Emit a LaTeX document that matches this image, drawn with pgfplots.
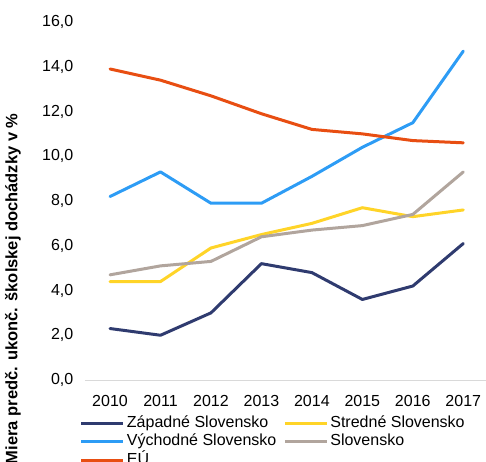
\documentclass[border=0pt]{standalone}
\usepackage{fontspec}
\setmainfont{Liberation Sans}
\usepackage{pgfplots}
\pgfplotsset{compat=1.18}

\definecolor{zapad}{HTML}{2F3B6F}
\definecolor{vychod}{HTML}{2D9CF5}
\definecolor{eu}{HTML}{E84E12}
\definecolor{stred}{HTML}{FFD428}
\definecolor{sk}{HTML}{B1A59D}

\begin{document}
\begin{tikzpicture}
\begin{axis}[
  scale only axis,
  width=401.2bp, height=358bp,
  xmin=2009.5, xmax=2017.45,
  ymin=0, ymax=16,
  xtick={2010,...,2017},
  ytick={0,2,...,16},
  font=\fontsize{16bp}{18bp}\selectfont,
  /pgf/number format/assume math mode=true,
  x tick label style={/pgf/number format/1000 sep={}},
  y tick label style={/pgf/number format/fixed, /pgf/number format/fixed zerofill,
    /pgf/number format/precision=1, /pgf/number format/use comma},
  major tick length=0pt,
  separate axis lines,
  axis x line*=bottom,
  axis y line*=left,
  x axis line style={draw=black!15, line width=0.8bp, -},
  y axis line style={draw=none},
  yticklabel style={xshift=-8bp},
  xticklabel style={yshift=-12bp},
  ylabel={\fontsize{16.5bp}{18bp}\selectfont\bfseries Miera predč. ukonč. školskej dochádzky v \%},
  ylabel style={at={(axis description cs:-0.179,0.255)}, anchor=center},
  every axis plot/.append style={line width=3bp, line join=round, line cap=round},
  legend columns=2,
  legend cell align=left,
  legend style={draw=none, fill=none, at={(axis description cs:-0.02,-0.089)}, anchor=north west,
    row sep=0bp,
    nodes={text height=11bp, text depth=3.5bp, inner ysep=2bp},
    /tikz/every even column/.append style={column sep=5bp}},
  legend image code/.code={\draw[#1, line cap=butt] (0bp,0bp) -- (42bp,0bp);},
]
\addplot[zapad] coordinates {(2010,2.3) (2011,2.0) (2012,3.0) (2013,5.2) (2014,4.8) (2015,3.6) (2016,4.2) (2017,6.1)};
\addlegendentry{Západné Slovensko}
\addplot[stred] coordinates {(2010,4.4) (2011,4.4) (2012,5.9) (2013,6.5) (2014,7.0) (2015,7.7) (2016,7.3) (2017,7.6)};
\addlegendentry{Stredné Slovensko}
\addplot[vychod] coordinates {(2010,8.2) (2011,9.3) (2012,7.9) (2013,7.9) (2014,9.1) (2015,10.4) (2016,11.5) (2017,14.7)};
\addlegendentry{Východné Slovensko}
\addplot[sk] coordinates {(2010,4.7) (2011,5.1) (2012,5.3) (2013,6.4) (2014,6.7) (2015,6.9) (2016,7.4) (2017,9.3)};
\addlegendentry{Slovensko}
\addplot[eu] coordinates {(2010,13.9) (2011,13.4) (2012,12.7) (2013,11.9) (2014,11.2) (2015,11.0) (2016,10.7) (2017,10.6)};
\addlegendentry{EÚ}
\end{axis}
\pgfresetboundingbox
\useasboundingbox (-84.8bp,-82bp) rectangle (401.2bp,380bp);
\end{tikzpicture}
\end{document}
